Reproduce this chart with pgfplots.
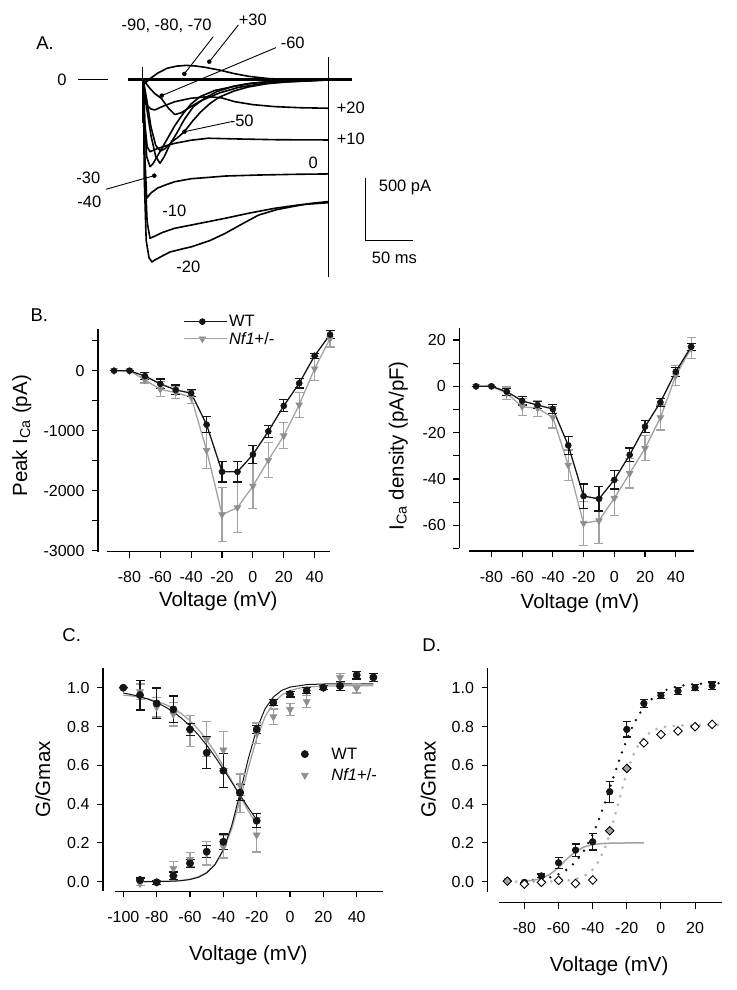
\documentclass[border=0pt]{standalone}
\usepackage{pgfplots}
\pgfplotsset{compat=1.18}
\usepackage{fontspec}
\setmainfont{Liberation Sans}
\definecolor{blk}{HTML}{151515}
\definecolor{gpt}{HTML}{8E8E8E}
\definecolor{gln}{HTML}{A2A2A2}
\definecolor{gdot}{HTML}{B4B4B4}
\newcommand{\tickfont}{\fontsize{16}{19}\selectfont}
\newcommand{\labfont}{\fontsize{20.5}{24}\selectfont}
\newcommand{\annfont}{\fontsize{16.5}{19}\selectfont}
\newcommand{\panfont}{\fontsize{18.5}{22}\selectfont}
\pgfplotsset{
  panel/.style={
    scale only axis, anchor=south west, clip=false,
    axis lines*=left, tick align=outside,
    major tick length=6pt, minor tick length=6pt,
    tick style={black, line width=1.1pt},
    axis line style={black, line width=1.2pt},
    tick label style={font=\tickfont},
    xticklabel style={anchor=north, yshift=-10.5pt},
    yticklabel style={anchor=east, xshift=-4pt},
    label style={font=\labfont},
    /pgf/number format/assume math mode=true,
    /pgf/number format/1000 sep={},
    scaled ticks=false,
  },
  wt/.style={color=blk, line width=1.3pt, mark=*, mark size=3pt,
    mark options={fill=blk, draw=blk, solid, line width=0.6pt},
    error bars/y dir=both, error bars/y explicit,
    error bars/error bar style={blk, line width=1.2pt, solid},
    error bars/error mark options={rotate=90, draw=blk, mark size=4.5pt, line width=1.2pt}},
  nf/.style={color=gln, line width=1.3pt, mark=triangle*, mark size=3.8pt,
    mark options={rotate=180, fill=gpt, draw=gpt, solid, line width=0.6pt},
    error bars/y dir=both, error bars/y explicit,
    error bars/error bar style={gln, line width=1.2pt, solid},
    error bars/error mark options={rotate=90, draw=gln, mark size=4.5pt, line width=1.2pt}},
  trace/.style={black, line width=1.6pt, line join=round, mark=none},
  base/.style={black, line width=3pt, mark=none},
  pointer/.style={black, line width=0.9pt, mark=none},
  pdot/.style={only marks, mark=*, mark size=2pt, black},
}
\begin{document}
\begin{tikzpicture}
\path[use as bounding box] (0pt,0pt) rectangle (736pt,990pt);
\node[font=\panfont] at (45pt,947.3pt) {A.};
\node[font=\panfont] at (39.3pt,675pt) {B.};
\node[font=\panfont] at (71.7pt,355pt) {C.};
\node[font=\panfont] at (431.7pt,345pt) {D.};

% ---------------- Panel A: current traces ----------------
\begin{axis}[scale only axis, anchor=south west, at={(76.6pt,700.1pt)},
  width=338.4pt, height=240.8pt, xmin=-70, xmax=285, ymin=-1700, ymax=250,
  hide axis, clip=false]
\addplot[base] coordinates {(-15.7,0) (0,0)};
\addplot[base] coordinates {(0,0) (60,0) (120,0) (194,0)};
\addplot[base] coordinates {(194.1,0) (218.6,0)};
% +30
\addplot[trace] coordinates {(0,0) (3,-20) (6,5) (15,55) (25,95) (35,112) (45,118) (55,113) (65,102) (80,80) (95,52) (110,30) (130,12) (150,4) (194,0)};
% +20
\addplot[trace] coordinates {(0,0) (1.5,-150) (3,-200) (8,-235) (12,-243) (20,-215) (33,-176) (50,-148) (68,-135) (82,-145) (96,-176) (115,-200) (138,-216) (165,-225) (194,-229)};
% +10
\addplot[trace] coordinates {(0,0) (1.5,-350) (4,-540) (7,-581) (15,-555) (25,-530) (33,-513) (50,-488) (68,-472) (100,-478) (140,-484) (194,-486)};
% 0
\addplot[trace] coordinates {(0,0) (1.5,-600) (3.5,-958) (8,-915) (15,-875) (25,-845) (33,-824) (50,-800) (70,-788) (86,-778) (120,-770) (160,-764) (194,-761)};
% -10
\addplot[trace] coordinates {(0,0) (1.5,-700) (4,-1150) (7,-1282) (12,-1265) (20,-1235) (33,-1201) (60,-1160) (86,-1120) (110,-1080) (138,-1039) (165,-1010) (194,-994)};
% -20
\addplot[trace] coordinates {(0,0) (1,-800) (3,-1300) (6,-1440) (9,-1474) (12,-1458) (20,-1425) (28,-1393) (40,-1370) (51,-1350) (70,-1300) (86,-1242) (105,-1160) (121,-1094) (140,-1050) (156,-1026) (175,-1000) (194,-985)};
% -30
\addplot[trace] coordinates {(0,0) (3,-200) (8,-450) (13,-620) (17.5,-675) (22,-620) (28,-520) (35,-432) (43,-320) (52.5,-216) (65,-145) (77,-95) (95,-50) (112,-27) (140,-8) (194,0)};
% -40
\addplot[trace] coordinates {(0,0) (1.5,-350) (3.5,-620) (7,-702) (10,-680) (16,-600) (24.5,-486) (33,-370) (42,-270) (50,-195) (59.5,-135) (75,-85) (94,-54) (110,-32) (130,-14) (160,-4) (194,0)};
% -50
\addplot[trace] coordinates {(0,0) (4,-180) (8,-380) (13,-530) (18,-575) (23,-555) (30,-500) (37,-460) (43,-419) (52,-330) (60,-260) (70,-190) (80,-138) (95,-90) (110,-57) (130,-30) (150,-16) (194,0)};
% -60
\addplot[trace] coordinates {(0,0) (6,-60) (12,-110) (19,-150) (26,-225) (33,-280) (40,-265) (50,-215) (60,-170) (80,-105) (100,-60) (125,-30) (150,-15) (194,0)};
% artifacts
\addplot[black, line width=1pt] coordinates {(-0.5,108) (-0.5,-350)};
\addplot[black, line width=1.3pt] coordinates {(194.1,189) (194.1,-1593)};
% scale bars
\addplot[black, line width=1pt] coordinates {(233.3,-796) (233.3,-1296) (283.3,-1296)};
% zero marker
\addplot[black, line width=1pt] coordinates {(-68.5,0) (-37,0)};
% pointers
\addplot[pointer] coordinates {(73.4,351) (43,49)};
\addplot[pdot] coordinates {(43,49)};
\addplot[pointer] coordinates {(99.7,445) (69.2,148)};
\addplot[pdot] coordinates {(69.2,148)};
\addplot[pointer] coordinates {(139.2,262) (19.3,-127)};
\addplot[pdot] coordinates {(19.3,-127)};
\addplot[pointer] coordinates {(90.9,-340) (43.2,-419)};
\addplot[pdot] coordinates {(43.2,-419)};
\addplot[pointer] coordinates {(-39.1,-885) (11.5,-775)};
\addplot[pdot] coordinates {(11.5,-775)};
\begin{scope}[every node/.style={font=\annfont}]
\node at (axis cs:24.5,437) {-90, -80, -70};
\node at (axis cs:114.8,486) {+30};
\node at (axis cs:156.7,297) {-60};
\node at (axis cs:217.6,-229) {+20};
\node at (axis cs:103.2,-330) {-50};
\node at (axis cs:217.6,-480) {+10};
\node at (axis cs:178.3,-670) {0};
\node at (axis cs:-57.7,-796) {-30};
\node at (axis cs:-56.6,-986) {-40};
\node at (axis cs:32.5,-1059) {-10};
\node at (axis cs:47.2,-1512) {-20};
\node at (axis cs:274.5,-872) {500 pA};
\node at (axis cs:263.3,-1439) {50 ms};
\node at (axis cs:-85.3,0) {0};
\end{scope}
\end{axis}

% ---------------- Panel B left ----------------
\begin{axis}[panel, at={(98pt,438.3pt)}, width=232.05pt, height=223pt,
  xmin=-100.4, xmax=50, ymin=-3016.7, ymax=700,
  x axis line style={dash pattern=on 0pt off 8.7pt on 2000pt},
  xtick={-80,-60,-40,-20,0,20,40}, ytick={-3000,-2000,-1000,0},
  yticklabels={-3000,-2000,-1000,0},
  minor ytick={-2500,-1500,-500,500},
  xlabel={Voltage (mV)}, ylabel={Peak I\textsubscript{Ca} (pA)},
  xlabel style={at={(axis description cs:0.5184,-0.2242)}, anchor=center},
  ylabel style={at={(axis description cs:-0.3288,0.5197)}, anchor=center},
  legend style={at={(axis description cs:0.3663,1.068)}, anchor=north west, draw=none, fill=none,
    font=\annfont, row sep=1pt, inner sep=0pt, nodes={inner sep=1.5pt}},
  legend cell align=left, reverse legend,
  legend image code/.code={\draw[#1] (0pt,0pt) -- (37pt,0pt); \draw[#1, only marks] plot coordinates {(18.5pt,0pt)}; \path (0pt,0pt) -- (43pt,0pt);},
]
\addplot[nf] coordinates {(-90,0) +- (0,0) (-80,0) +- (0,0) (-70,-155) +- (0,50) (-60,-310) +- (0,125) (-50,-365) +- (0,100) (-40,-442) +- (0,110) (-30,-1326) +- (0,300) (-20,-2398) +- (0,445) (-10,-2282) +- (0,415) (0,-1923) +- (0,370) (10,-1492) +- (0,290) (20,-1083) +- (0,220) (30,-569) +- (0,205) (40,33) +- (0,200) (50,536) +- (0,140)};
\addlegendentry{\textit{Nf1}+/-}
\addplot[wt] coordinates {(-90,0) +- (0,0) (-80,0) +- (0,0) (-70,-90) +- (0,60) (-60,-220) +- (0,80) (-50,-320) +- (0,80) (-40,-375) +- (0,60) (-30,-900) +- (0,135) (-20,-1685) +- (0,170) (-10,-1685) +- (0,170) (0,-1398) +- (0,145) (10,-1011) +- (0,100) (20,-586) +- (0,100) (30,-210) +- (0,80) (40,249) +- (0,40) (50,602) +- (0,70)};
\addlegendentry{WT}
\end{axis}

% ---------------- Panel B right ----------------
\begin{axis}[panel, at={(459.3pt,439pt)}, width=234.9pt, height=222.6pt,
  xmin=-100.9, xmax=52, ymin=-71.1, ymax=25,
  x axis line style={dash pattern=on 0pt off 10pt on 2000pt},
  y axis line style={dash pattern=on 0pt off 2.7pt on 2000pt},
  xtick={-80,-60,-40,-20,0,20,40}, ytick={-60,-40,-20,0,20},
  yticklabels={-60,-40,-20,0,20},
  minor ytick={-70,-50,-30,-10,10},
  xlabel={Voltage (mV)}, ylabel={I\textsubscript{Ca} density (pA/pF)},
  xlabel style={at={(axis description cs:0.5138,-0.235)}, anchor=center},
  ylabel style={at={(axis description cs:-0.2597,0.4726)}, anchor=center},
]
\addplot[nf] coordinates {(-90,0) +- (0,0) (-80,0) +- (0,0) (-70,-3.0) +- (0,2.7) (-60,-8.8) +- (0,3.7) (-50,-9.5) +- (0,3.5) (-40,-13.4) +- (0,4.6) (-30,-34) +- (0,6.5) (-20,-59.1) +- (0,9.5) (-10,-58) +- (0,9.8) (0,-48.3) +- (0,7.5) (10,-37.6) +- (0,6.3) (20,-26.8) +- (0,5.4) (30,-13.5) +- (0,5.4) (40,4.6) +- (0,4.3) (50,16.4) +- (0,4.5)};
\addplot[wt] coordinates {(-90,0) +- (0,0) (-80,0) +- (0,0) (-70,-2.3) +- (0,1.5) (-60,-6.3) +- (0,1.8) (-50,-8.1) +- (0,1.6) (-40,-9.8) +- (0,1.8) (-30,-25.5) +- (0,3.8) (-20,-47.4) +- (0,5.2) (-10,-48.6) +- (0,5.2) (0,-40.4) +- (0,3.9) (10,-29.6) +- (0,3) (20,-17.4) +- (0,2.5) (30,-6.9) +- (0,1.8) (40,6.3) +- (0,1.9) (50,17.1) +- (0,1.5)};
\end{axis}

% ---------------- Panel C ----------------
\begin{axis}[panel, at={(103pt,98.6pt)}, width=279.7pt, height=223.1pt,
  xmin=-112.2, xmax=55.6, ymin=-0.05, ymax=1.1,
  x axis line style={dash pattern=on 0pt off 12pt on 2000pt},
  xtick={-100,-80,-60,-40,-20,0,20,40}, ytick={0,0.2,0.4,0.6,0.8,1},
  yticklabels={0.0,0.2,0.4,0.6,0.8,1.0},
  xlabel={Voltage (mV)}, ylabel={G/Gmax},
  xlabel style={at={(axis description cs:0.5195,-0.285)}, anchor=center},
  ylabel style={at={(axis description cs:-0.2156,0.5016)}, anchor=center},
  legend style={at={(axis description cs:0.7043,0.654)}, anchor=north west, draw=none, fill=none,
    font=\annfont, row sep=4pt, inner sep=0pt},
  legend cell align=left, reverse legend,
  legend image code/.code={\draw[#1, only marks] plot coordinates {(0pt,0pt)}; \path (-4pt,0pt) (24pt,0pt);},
]
% fits
\addplot[gln, line width=1.3pt, forget plot] coordinates {(-90,0.0002) (-80,0.0009) (-70,0.0035) (-65,0.0068) (-60,0.0131) (-55,0.0252) (-50,0.0479) (-45,0.0893) (-40,0.1605) (-35,0.2716) (-30,0.4216) (-25,0.5884) (-20,0.7384) (-15,0.8495) (-10,0.9207) (-5,0.962) (0,0.9848) (5,0.997) (10,1.0033) (20,1.0082) (30,1.0095) (50,1.01)};
\addplot[gln, line width=1.3pt, forget plot] coordinates {(-100,0.9622) (-95,0.9575) (-90,0.951) (-85,0.942) (-80,0.9302) (-75,0.9142) (-70,0.8929) (-65,0.8652) (-60,0.8297) (-55,0.785) (-50,0.7309) (-45,0.6673) (-40,0.5958) (-35,0.5189) (-30,0.4405) (-25,0.3644) (-20,0.2943)};
\addplot[blk, line width=1pt, forget plot] coordinates {(-90,0.0002) (-80,0.0007) (-70,0.0027) (-65,0.0055) (-60,0.0112) (-55,0.0226) (-50,0.0451) (-45,0.0882) (-40,0.165) (-35,0.289) (-30,0.456) (-25,0.635) (-20,0.786) (-15,0.891) (-10,0.952) (-5,0.986) (0,1.003) (10,1.016) (20,1.019) (30,1.02) (50,1.02)};
\addplot[blk, line width=1pt, forget plot] coordinates {(-100,0.9726) (-95,0.9643) (-90,0.9537) (-85,0.9403) (-80,0.9232) (-75,0.9017) (-70,0.875) (-65,0.8423) (-60,0.803) (-55,0.7568) (-50,0.7037) (-45,0.6445) (-40,0.5803) (-35,0.5135) (-30,0.4462) (-25,0.3808) (-20,0.3194)};
% data
\addplot[nf, only marks, mark size=4pt]
  coordinates {(-90,-0.009) +- (0,0.01) (-80,-0.003) +- (0,0.01) (-70,0.069) +- (0,0.035) (-60,0.115) +- (0,0.035) (-50,0.146) +- (0,0.06) (-40,0.18) +- (0,0.058) (-30,0.455) +- (0,0.1) (-20,0.765) +- (0,0.053) (-10,0.85) +- (0,0.04) (0,0.888) +- (0,0.03) (10,0.928) +- (0,0.03) (20,1.0) +- (0,0.01) (30,1.052) +- (0,0.023) (40,0.997) +- (0,0.024) (50,1.053) +- (0,0.02)};
\addlegendentry{\textit{Nf1}+/-}
\addplot[nf, only marks, mark size=4pt, forget plot]
  coordinates {(-100,0.997) +- (0,0) (-90,0.979) +- (0,0.04) (-80,0.899) +- (0,0.05) (-70,0.863) +- (0,0.06) (-60,0.777) +- (0,0.08) (-50,0.734) +- (0,0.09) (-40,0.679) +- (0,0.095) (-30,0.498) +- (0,0.055) (-20,0.241) +- (0,0.088)};
\addplot[wt, only marks, mark size=3.6pt]
  coordinates {(-90,0.009) +- (0,0.01) (-80,-0.003) +- (0,0.01) (-70,0.03) +- (0,0.02) (-60,0.095) +- (0,0.02) (-50,0.155) +- (0,0.032) (-40,0.206) +- (0,0.04) (-30,0.459) +- (0,0.04) (-20,0.785) +- (0,0.02) (-10,0.923) +- (0,0.015) (0,0.967) +- (0,0.015) (10,0.985) +- (0,0.015) (20,1.0) +- (0,0.01) (30,1.009) +- (0,0.022) (40,1.065) +- (0,0.02) (50,1.053) +- (0,0.02)};
\addlegendentry{WT}
\addplot[wt, only marks, mark size=3.6pt, forget plot]
  coordinates {(-100,1.0) +- (0,0) (-90,0.962) +- (0,0.077) (-80,0.919) +- (0,0.079) (-70,0.888) +- (0,0.069) (-60,0.785) +- (0,0.03) (-50,0.665) +- (0,0.083) (-40,0.572) +- (0,0.088) (-30,0.459) +- (0,0.04) (-20,0.314) +- (0,0.036)};
\end{axis}

% ---------------- Panel D ----------------
\begin{axis}[panel, at={(487.5pt,87.3pt)}, width=234.2pt, height=234.4pt,
  xmin=-101.6, xmax=35.6, ymin=-0.108, ymax=1.1,
  x axis line style={dash pattern=on 0pt off 11.5pt on 2000pt},
  y axis line style={dash pattern=on 0pt off 11pt on 2000pt},
  xtick={-80,-60,-40,-20,0,20}, ytick={0,0.2,0.4,0.6,0.8,1},
  yticklabels={0.0,0.2,0.4,0.6,0.8,1.0},
  xlabel={Voltage (mV)}, ylabel={G/Gmax},
  xlabel style={at={(axis description cs:0.5196,-0.273)}, anchor=center},
  ylabel style={at={(axis description cs:-0.2528,0.5256)}, anchor=center},
]
% gray dotted fit
\addplot[gdot, line width=3pt, line cap=round, dash pattern=on 0pt off 8.8pt] coordinates {(-90,0) (-80,0.0001) (-70,0.0005) (-60,0.0026) (-55,0.0059) (-50,0.0132) (-45,0.0294) (-42.5,0.0434) (-40,0.0637) (-37.5,0.0922) (-35,0.1314) (-32.5,0.1828) (-30,0.2471) (-27.5,0.3223) (-25,0.404) (-22.5,0.4857) (-20,0.5609) (-17.5,0.6252) (-15,0.6767) (-12.5,0.7158) (-10,0.7444) (-5,0.7787) (0,0.7948) (5,0.8021) (10,0.8054) (20,0.8075) (30,0.808) (35.6,0.808)};
% black dotted fit
\addplot[blk, line width=2.7pt, line cap=round, dash pattern=on 0pt off 8.8pt] coordinates {(-75,0.0083) (-70,0.0138) (-65,0.0231) (-60,0.0383) (-55,0.0628) (-50,0.1015) (-45,0.16) (-40,0.2434) (-37.5,0.295) (-35,0.3525) (-32.5,0.415) (-30,0.4805) (-27.5,0.5471) (-25,0.6126) (-22.5,0.6749) (-20,0.7322) (-17.5,0.7835) (-15,0.8283) (-12.5,0.8664) (-10,0.8983) (-5,0.9457) (0,0.9764) (5,0.9955) (10,1.0073) (15,1.0144) (20,1.0187) (25,1.0212) (30,1.0228) (35,1.0237)};
% gray solid fit
\addplot[gln, line width=1.5pt] coordinates {(-80,0.003) (-75,0.0073) (-70,0.0172) (-65,0.0379) (-60,0.0734) (-55,0.118) (-50,0.1562) (-45,0.1797) (-40,0.1913) (-35,0.1964) (-30,0.1985) (-20,0.1998) (-10,0.2)};
% WT points
\addplot[wt, only marks, mark size=3.3pt, error bars/error mark options={rotate=90, draw=blk, mark size=4pt, line width=1.2pt}]
  coordinates {(-90,0.005) +- (0,0) (-80,-0.003) +- (0,0) (-70,0.03) +- (0,0.01) (-60,0.098) +- (0,0.028) (-50,0.163) +- (0,0.032) (-40,0.206) +- (0,0.042) (-30,0.464) +- (0,0.054) (-20,0.785) +- (0,0.039) (-10,0.919) +- (0,0.02) (0,0.96) +- (0,0.017) (10,0.983) +- (0,0.017) (20,1.0) +- (0,0.015) (30,1.01) +- (0,0.019)};
% open diamonds
\addplot[only marks, mark=square*, mark size=3pt, mark options={rotate=45, fill=white, draw=black, line width=0.9pt}]
  coordinates {(-80,-0.012) (-70,-0.003) (-60,0.007) (-50,-0.009) (-40,0.009) (-10,0.716) (0,0.759) (10,0.777) (20,0.799) (30,0.811)};
% gray filled diamonds
\addplot[only marks, mark=square*, mark size=3pt, mark options={rotate=45, fill=gln, draw=black, line width=0.9pt}]
  coordinates {(-90,0.003) (-30,0.263) (-20,0.584)};
\end{axis}
\end{tikzpicture}
\end{document}
